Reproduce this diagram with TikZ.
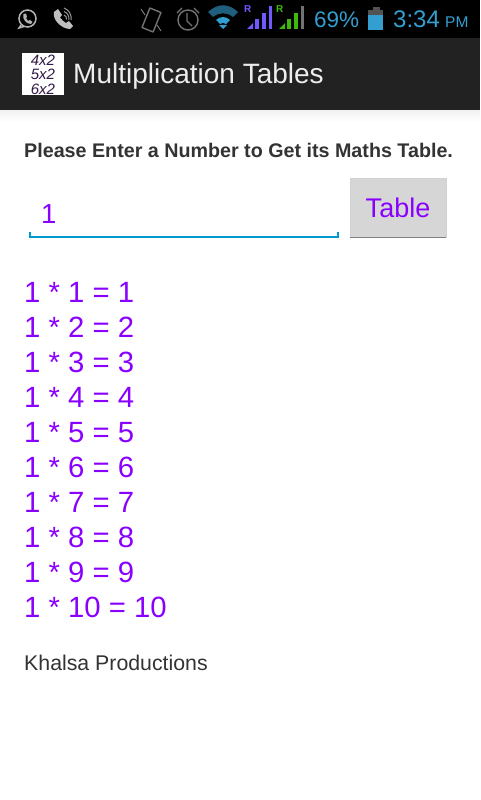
\documentclass[tikz,border=0pt]{standalone}
\usepackage{fontspec}
\setmainfont{Liberation Sans}
\usetikzlibrary{
  positioning,
  calc
}
\definecolor{barblack}{RGB}{0,0,0}
\definecolor{bargrey}{RGB}{34,34,34}
\definecolor{iconblue}{RGB}{51,158,208}
\definecolor{icongrey}{RGB}{115,115,115}
\definecolor{tablepurple}{RGB}{138,0,255}
\definecolor{textgrey}{RGB}{51,51,51}
\definecolor{linecyan}{RGB}{0,153,204}
\definecolor{buttongrey}{RGB}{214,214,214}
\definecolor{rpurple}{RGB}{112,90,255}
\definecolor{rgreen}{RGB}{60,185,10}
\definecolor{inkviolet}{RGB}{50,25,70}
\tikzset{
  bartext/.style={anchor=base west,inner sep=0pt,text=iconblue},
  titletext/.style={anchor=base west,inner sep=0pt,text=white!93!black,font=\fontsize{28}{28}\selectfont},
  tabletext/.style={anchor=base west,inner sep=0pt,text=tablepurple,font=\fontsize{29.3}{30}\selectfont},
  logotext/.style={inner sep=0pt,text=inkviolet,font=\fontsize{15}{15}\selectfont\itshape},
  greyicon/.style={draw=icongrey,line width=1.4pt,line join=round},
  whiteicon/.style={draw=black!30,line width=1.5pt}
}
\begin{document}
\begin{tikzpicture}[x=1pt,y=-1pt]
  \useasboundingbox (0,0) rectangle (480,800);
  \fill[white] (0,0) rectangle (480,800);
  \fill[barblack] (0,0) rectangle (480,38);
  \fill[bargrey] (0,38) rectangle (480,110);
  \shade[top color=black!5,bottom color=white] (0,110) rectangle (480,122);

  % status bar, left side
  \draw[whiteicon] (27.5,18.5) circle (8.5);
  \draw[whiteicon] (21,25) -- (19,28) -- (24,26.5);
  \fill[black!30] (23.5,14) -- (26,13.5) -- (27,17) -- (26,18) -- (28,21) -- (30,20) -- (32.5,22) -- (31,24) .. controls (26,24) and (22,19) .. (23.5,14) -- cycle;
  \fill[black!25] (54,12) -- (58,9) -- (62,15) -- (60,17.5) .. controls (62,20) and (64,22) .. (66,23) -- (69,21) -- (73,26) -- (70,29) .. controls (62,29) and (52,20) .. (54,12) -- cycle;
  \draw[black!40,line width=1pt] (64,15) arc (-70:10:4) (64,11.5) arc (-70:10:7.5) (64,8) arc (-70:10:11);

  \draw[greyicon,rotate around={-22:(151.5,20)}] (145.5,9.5) rectangle (157.5,30.5);
  \draw[icongrey,line width=1pt] (141,9) -- (145,15) (161,31) -- (157,25);
  \draw[greyicon] (188,20) circle (10);
  \draw[greyicon] (187,13) -- (187,21) -- (192,26);
  \draw[greyicon] (177,13) -- (182,8) (199,13) -- (194,8);

  % wifi
  \fill[iconblue!60!black] (208,12) .. controls (218,3) and (228,3) .. (238,12) -- (233,17) .. controls (227,12) and (219,12) .. (213,17) -- cycle;
  \fill[iconblue] (216,20) .. controls (220,16) and (226,16) .. (230,20) -- (226,24) .. controls (224,22.5) and (222,22.5) .. (220,24) -- cycle;
  \fill[iconblue] (223,29) -- (219,25) -- (227,25) -- cycle;

  % signal bars
  \node[bartext,text=rpurple,font=\bfseries\fontsize{10}{10}\selectfont] (firstr) at (244,13) {R};
  \fill[rpurple] (247,29) -- (253,23) -- (253,29) -- cycle;
  \foreach \x/\h/\w in {255/19/4,262/13/4,269/6/3}
    \fill[rpurple] (\x,29) rectangle (\x+\w,\h);
  \node[bartext,text=rgreen,font=\bfseries\fontsize{10}{10}\selectfont] (secondr) at (276,13) {R};
  \fill[rgreen] (279,29) -- (285,23) -- (285,29) -- cycle;
  \foreach \x/\h/\w/\col in {287/19/4/rgreen,294/13/4/rgreen,301/6/3/icongrey}
    \fill[\col] (\x,29) rectangle (\x+\w,\h);

  % battery and clock
  \fill[black!68] (373,7.5) rectangle (380,11);
  \fill[black!68] (367.5,10.5) rectangle (383,15);
  \fill[iconblue] (367.5,15) rectangle (383,30);
  \node[bartext,font=\fontsize{22.5}{22.5}\selectfont] (percent) at (314,28) {69\%};
  \node[bartext,font=\fontsize{24}{24}\selectfont] (clock) at (393,28) {3:34};
  \node[bartext,font=\fontsize{15.5}{15.5}\selectfont] (ampm) at (445,28) {PM};

  % action bar
  \fill[white] (22,53) rectangle (64,95);
  \node[logotext] (logoa) at (43,60) {4x2};
  \node[logotext] (logob) at (43,74.5) {5x2};
  \node[logotext] (logoc) at (43,89) {6x2};
  \node[titletext] (title) at (73,84) {Multiplication Tables};

  % content
  \node[anchor=base west,inner sep=0pt,text=textgrey,font=\bfseries\fontsize{19.7}{20}\selectfont] (prompt) at (24,157) {Please Enter a Number to Get its Maths Table.};
  \node[anchor=base west,inner sep=0pt,text=tablepurple,font=\fontsize{27.5}{27.5}\selectfont] (entry) at (41,223) {1};
  \draw[linecyan,line width=2pt] (30,232) -- (30,236.5) -- (338,236.5) -- (338,232);
  \node[draw=black!18,fill=buttongrey,minimum width=95.5pt,minimum height=59pt,inner sep=0pt,text=tablepurple,font=\fontsize{27}{27}\selectfont] (tablebtn) at (398,207.5) {Table};
  \draw[black!50,line width=1pt] (tablebtn.south west) -- (tablebtn.south east);

  \foreach \n [evaluate=\n as \y using int(302+35*(\n-1)), evaluate=\n as \r using int(\n)] in {1,...,10}
    \node[tabletext] (row\n) at (24,\y) {1 * \n\ = \r};
  \node[anchor=base west,inner sep=0pt,text=textgrey,font=\fontsize{21.3}{21.3}\selectfont] (credit) at (24,670) {Khalsa Productions};
\end{tikzpicture}
\end{document}
